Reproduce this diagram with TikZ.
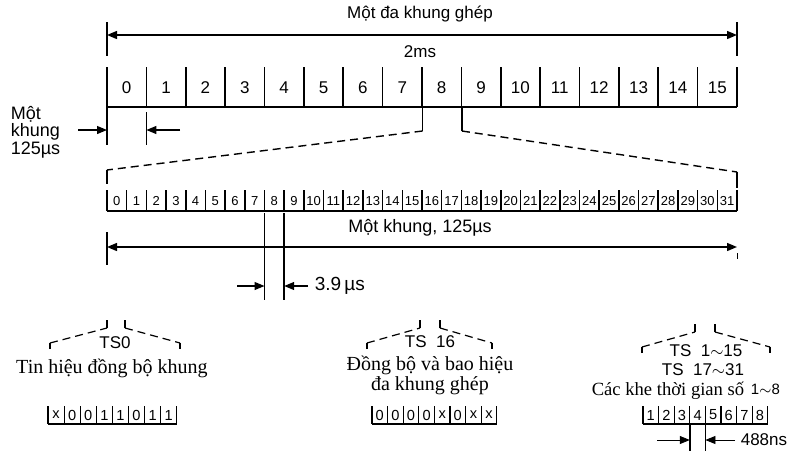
\documentclass[tikz,border=0pt]{standalone}
\usepackage{fontspec}
\setmainfont{Liberation Serif}
\setsansfont{Liberation Sans}
\usetikzlibrary{arrows.meta}

\tikzset{
  dimto/.style={-{Triangle[length=5pt,width=4pt]}, line width=0.6pt},
  dimboth/.style={{Triangle[length=5pt,width=4pt]}-{Triangle[length=5pt,width=4pt]}, line width=0.7pt},
  fanline/.style={dash pattern=on 4pt off 2.5pt, line width=0.7pt},
  lbl/.style={font=\sffamily\fontsize{8.5}{9}\selectfont, inner sep=1pt},
  slotnum/.style={font=\sffamily\fontsize{8.5}{9}\selectfont, inner sep=0pt},
  tsnum/.style={font=\sffamily\fontsize{6.5}{7}\selectfont, inner sep=0pt},
  bitnum/.style={font=\sffamily\fontsize{7.3}{8}\selectfont, inner sep=0pt},
  caption/.style={font=\fontsize{10}{10}\selectfont, align=center, inner sep=1pt}
}

\begin{document}
\begin{tikzpicture}[x=0.5pt, y=-0.5pt, line width=0.8pt]
  \useasboundingbox (0,0) rectangle (804,451);

  % multiframe span
  \coordinate (mfL) at (107,35);
  \coordinate (mfR) at (737,35);
  \draw (107,22) -- (107,56);
  \draw (737,22) -- (737,56);
  \draw[dimboth] (mfL) -- (mfR);
  \node[lbl] (mftitle) at (420,14) {Một đa khung ghép};
  \node[lbl] (mfdur) at (420,52) {2ms};

  % 16 frames
  \foreach \i in {0,...,15}
    \node[slotnum] (fr\i) at (107+39.375*\i+19.69,88) {\i};
  \foreach \i in {0,...,16}
    \draw (107+39.375*\i,67) -- (107+39.375*\i,107);
  \draw (107,107) -- (737,107);

  % one frame width
  \draw (107,107) -- (107,145);
  \draw (146.4,112) -- (146.4,145);
  \coordinate (fa) at (107,130);
  \coordinate (fb) at (146.4,130);
  \draw[dimto] (78,130) -- (fa);
  \draw[dimto] (180,130) -- (fb);
  \node[lbl, font=\sffamily\fontsize{9}{8.8}\selectfont, align=left, anchor=west] (frlbl) at (8,132) {Một\\khung\\125µs};

  % expansion of frame 8
  \draw (422.5,107) -- (422.5,131);
  \draw[fanline] (422.5,131) -- (107,170);
  \draw (107,170) -- (107,184);
  \draw (461.9,107) -- (461.9,131);
  \draw[fanline] (461.9,131) -- (737,172);
  \draw (737,172) -- (737,188);

  % 32 time slots
  \foreach \i in {0,...,31}
    \node[tsnum] (ts\i) at (107+19.6875*\i+9.84,201) {\i};
  \foreach \i in {0,...,32}
    \draw (107+19.6875*\i,190) -- (107+19.6875*\i,211);
  \draw (107,211) -- (737,211);

  % frame span
  \node[lbl, font=\sffamily\fontsize{9}{9}\selectfont] (frtitle) at (420,228) {Một khung, 125µs};
  \draw (107,232) -- (107,265);
  \draw[dashed, line width=0.4pt] (737,253) -- (737,265);
  \draw[dimboth] (107,247) -- (737,247);

  % slot width
  \draw (264.5,213) -- (264.5,300);
  \draw (284.2,213) -- (284.2,300);
  \coordinate (sa) at (264.5,286);
  \coordinate (sb) at (284.2,286);
  \draw[dimto] (237,286) -- (sa);
  \draw[dimto] (308,286) -- (sb);
  \node[lbl, font=\sffamily\fontsize{9.5}{10}\selectfont, anchor=west] (slotdur) at (312,286) {3.9\,µs};

  % roofs over the three groups
  \foreach \L/\a/\b/\R/\T in {50/107/125/180/320, 367/420/440/492/320, 642/695/715/770/324}{
    \draw[line width=0.6pt] (\L,\T+29) -- (\L,\T+23);
    \draw[fanline, line width=0.6pt] (\L,\T+23) -- (\a,\T+8);
    \draw[line width=0.6pt] (\a,\T+8) -- (\a,\T);
    \draw[line width=0.6pt] (\b,\T) -- (\b,\T+8);
    \draw[fanline, line width=0.6pt] (\b,\T+8) -- (\R,\T+23);
    \draw[line width=0.6pt] (\R,\T+23) -- (\R,\T+29);
  }

  \node[lbl] (ts0lbl) at (115,343) {TS0};
  \node[caption] (ts0txt) at (112,368) {Tin hiệu đồng bộ khung};
  \node[lbl] (ts16lbl) at (430,342) {TS\ \ 16};
  \node[caption] (ts16txt) at (430,375) {Đồng bộ và bao hiệu\\đa khung ghép};
  \node[lbl] (tsalbl) at (706,351) {TS\ \ 1$\sim$15};
  \node[lbl] (tsblbl) at (703,370) {TS\ \ 17$\sim$31};
  \node[caption, font=\fontsize{9.3}{10}\selectfont] (tsctxt) at (668,391) {Các khe thời gian số};
  \node[lbl, font=\sffamily\fontsize{7.5}{8}\selectfont, anchor=west] (tscrng) at (748,389) {1$\sim$8};

  % bit patterns
  \foreach \x/\w/\bits in {48/16.1/{x,0,0,1,1,0,1,1}, 372/15.6/{0,0,0,0,x,0,x,x}, 643/15.6/{1,2,3,4,5,6,7,8}}{
    \foreach \bt [count=\k from 0] in \bits
      \node[bitnum] (b\x-\k) at (\x+\w*\k+\w/2,415) {\bt};
    \foreach \k in {0,...,8}
      \draw[line width=0.6pt] (\x+\w*\k,406) -- (\x+\w*\k,424);
    \draw[line width=0.6pt] (\x,424) -- (\x+8*\w,424);
  }

  % bit width
  \draw (689.8,424) -- (689.8,451);
  \draw (705.4,424) -- (705.4,451);
  \coordinate (ba) at (689.8,440);
  \coordinate (bb) at (705.4,440);
  \draw[dimto, line width=0.4pt] (657,440) -- (ba);
  \draw[dimto, line width=0.4pt] (735,440) -- (bb);
  \node[lbl, anchor=west] (bitdur) at (738,440) {488ns};
\end{tikzpicture}
\end{document}
